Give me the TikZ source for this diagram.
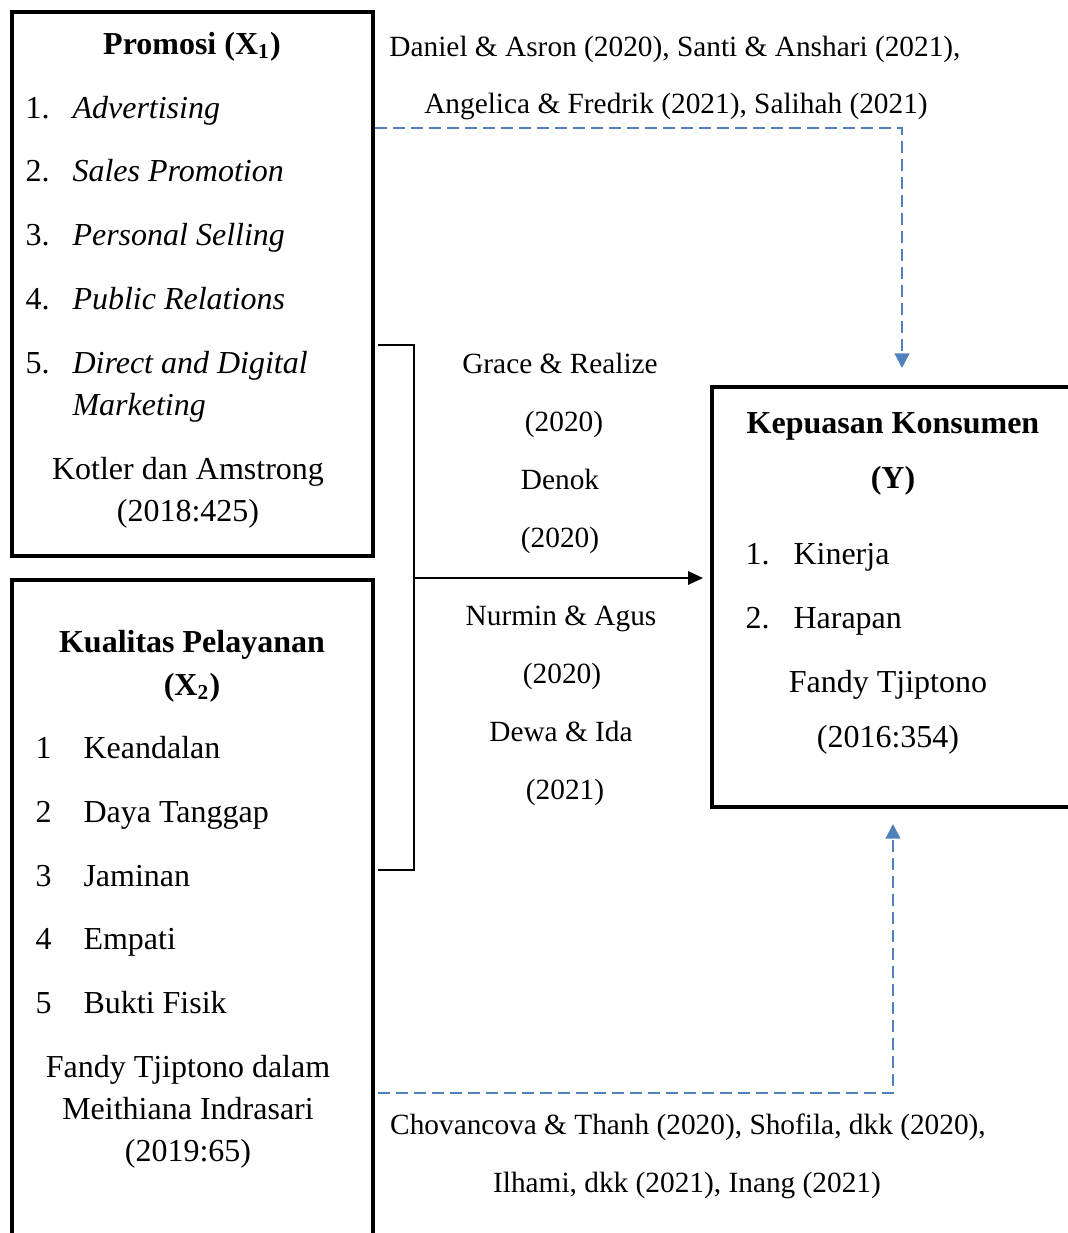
\documentclass[tikz,border=0pt]{standalone}
\usepackage{fontspec}
\setmainfont{Liberation Serif}
\usetikzlibrary{arrows.meta,calc}
\definecolor{linkblue}{HTML}{4F81BD}
\begin{document}
\begin{tikzpicture}[x=0.375pt,y=-0.375pt,
  every node/.style={font=\fontsize{12}{14}\selectfont, inner sep=0pt},
  varbox/.style={draw, line width=1.5pt, rectangle, inner sep=0pt},
  ctext/.style={anchor=base},
  ltext/.style={anchor=base west},
  reftext/.style={anchor=base, font=\fontsize{11}{13}\selectfont},
  bracketline/.style={line width=0.8pt},
  mainarrow/.style={line width=0.8pt, -{Triangle[length=5.6pt,width=5pt]}},
  link/.style={draw=linkblue, line width=0.8pt, dash pattern=on 4.5pt off 2.25pt,
    -{Triangle[length=5.5pt,width=5.5pt]}, color=linkblue}]
\useasboundingbox (0,0) rectangle (1068,1233);
\clip (0,0) rectangle (1068,1233);

% boxes
\node[varbox, minimum width=135.4pt, minimum height=204pt] (x1) at (192.5,284) {};
\node[varbox, minimum width=135.4pt, minimum height=251.25pt] (x2) at (192.5,915) {};
\node[varbox, minimum width=141.75pt, minimum height=157.5pt] (y) at (901,597) {};

% box X1 text
\node[ctext] (t1) at (192,54) {\textbf{Promosi (X\textsubscript{1})}};
\node[ltext] (n11) at (25,118) {1.};
\node[ltext] (i11) at (72,118) {\textit{Advertising}};
\node[ltext] (n12) at (25,181) {2.};
\node[ltext] (i12) at (72,181) {\textit{Sales Promotion}};
\node[ltext] (n13) at (25,245) {3.};
\node[ltext] (i13) at (72,245) {\textit{Personal Selling}};
\node[ltext] (n14) at (25,309) {4.};
\node[ltext] (i14) at (72,309) {\textit{Public Relations}};
\node[ltext] (n15) at (25,373) {5.};
\node[ltext] (i15) at (72,373) {\textit{Direct and Digital}};
\node[ltext] (i15b) at (72,415) {\textit{Marketing}};
\node[ctext] (s1a) at (188,479) {Kotler dan Amstrong};
\node[ctext] (s1b) at (188,521) {(2018:425)};

% box X2 text
\node[ctext] (t2a) at (192,652) {\textbf{Kualitas Pelayanan}};
\node[ctext] (t2b) at (192,695) {\textbf{(X\textsubscript{2})}};
\node[ltext] (n21) at (35,758) {1};
\node[ltext] (i21) at (83,758) {Keandalan};
\node[ltext] (n22) at (35,822) {2};
\node[ltext] (i22) at (83,822) {Daya Tanggap};
\node[ltext] (n23) at (35,886) {3};
\node[ltext] (i23) at (83,886) {Jaminan};
\node[ltext] (n24) at (35,949) {4};
\node[ltext] (i24) at (83,949) {Empati};
\node[ltext] (n25) at (35,1013) {5};
\node[ltext] (i25) at (83,1013) {Bukti Fisik};
\node[ctext] (s2a) at (188,1077) {Fandy Tjiptono dalam};
\node[ctext] (s2b) at (188,1119) {Meithiana Indrasari};
\node[ctext] (s2c) at (188,1161) {(2019:65)};

% box Y text
\node[ctext] (tya) at (893,433) {\textbf{Kepuasan Konsumen}};
\node[ctext] (tyb) at (893,488) {\textbf{(Y)}};
\node[ltext] (ny1) at (745,564) {1.};
\node[ltext] (iy1) at (793,564) {Kinerja};
\node[ltext] (ny2) at (745,628) {2.};
\node[ltext] (iy2) at (793,628) {Harapan};
\node[ctext] (sya) at (888,692) {Fandy Tjiptono};
\node[ctext] (syb) at (888,747) {(2016:354)};

% top references
\node[reftext] (r1a) at (675,56) {Daniel \& Asron (2020), Santi \& Anshari (2021),};
\node[reftext] (r1b) at (676,113) {Angelica \& Fredrik (2021), Salihah (2021)};

% middle references
\node[reftext] (m1) at (560,373) {Grace \& Realize};
\node[reftext] (m2) at (564,431) {(2020)};
\node[reftext] (m3) at (560,489) {Denok};
\node[reftext] (m4) at (560,547) {(2020)};
\node[reftext] (m5) at (561,625) {Nurmin \& Agus};
\node[reftext] (m6) at (562,683) {(2020)};
\node[reftext] (m7) at (561,741) {Dewa \& Ida};
\node[reftext] (m8) at (565,799) {(2021)};

% bottom references
\node[reftext] (r2a) at (688,1134) {Chovancova \& Thanh (2020), Shofila, dkk (2020),};
\node[reftext] (r2b) at (687,1192) {Ilhami, dkk (2021), Inang (2021)};

% bracket and main arrow
\coordinate (bt0) at (378,345);
\coordinate (bt1) at (414,345);
\coordinate (bb1) at (414,870);
\coordinate (bb0) at (378,870);
\coordinate (bm) at (414,578);
\draw[bracketline] (bt0) -- (bt1) -- (bb1) -- (bb0);
\draw[mainarrow] (bm) -- ($(y.west |- bm)+(-7,0)$);

% dashed links
\coordinate (l1s) at (x1.east |- 0,128);
\coordinate (l1c) at (902,128);
\draw[link] (l1s) -- (l1c) -- ($(l1c |- y.north)+(0,-17)$);
\coordinate (l2s) at (378,1093);
\coordinate (l2c) at (893,1093);
\draw[link] (l2s) -- (l2c) -- ($(l2c |- y.south)+(0,15)$);
\end{tikzpicture}
\end{document}
